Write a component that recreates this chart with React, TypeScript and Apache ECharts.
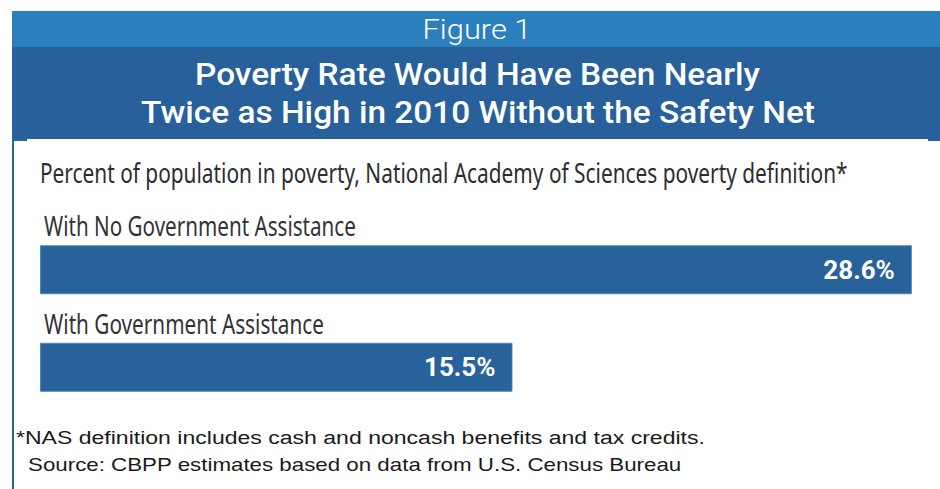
import React, { useEffect, useRef } from "react";
import * as echarts from "echarts";

const figureLabel = "Figure 1";
const titleLines = [
  "Poverty Rate Would Have Been Nearly",
  "Twice as High in 2010 Without the Safety Net",
];
const subtitle =
  "Percent of population in poverty, National Academy of Sciences poverty definition*";
const categories = ["With No Government Assistance", "With Government Assistance"];
const values = [28.6, 15.5];
const footnotes = [
  "*NAS definition includes cash and noncash benefits and tax credits.",
  "Source: CBPP estimates based on data from U.S. Census Bureau",
];

const W = 940;
const H = 489;

function measure(text: string, font: string): number {
  const ctx = document.createElement("canvas").getContext("2d");
  if (!ctx) return text.length * 10;
  ctx.font = font;
  return ctx.measureText(text).width;
}

function fittedText(
  text: string,
  x: number,
  y: number,
  targetWidth: number,
  size: number,
  family: string,
  weight: string,
  fill: string,
  align: string
) {
  const w = measure(text, `${weight} ${size}px ${family}`);
  const s = targetWidth / w;
  return {
    type: "text",
    x,
    y,
    scaleX: s,
    silent: true,
    style: {
      text,
      fill,
      fontSize: size,
      fontFamily: family,
      fontWeight: weight,
      align,
      verticalAlign: "middle",
      textAlign: align,
      textVerticalAlign: "middle",
    },
  };
}

export default function App() {
  const ref = useRef<HTMLDivElement>(null);
  useEffect(() => {
    if (!ref.current) return;
    const chart = echarts.init(ref.current, null, { renderer: "svg" });
    const barColor = "#28629b";
    chart.setOption({
      animation: false,
      backgroundColor: "#ffffff",
      grid: { left: 40, right: 16, top: 221, height: 195, containLabel: false },
      xAxis: { type: "value", min: 0, max: 29, show: false },
      yAxis: {
        type: "category",
        data: categories,
        inverse: true,
        show: false,
      },
      series: [
        {
          type: "bar",
          data: values,
          barWidth: 49,
          itemStyle: { color: barColor, borderColor: "#4d85bd", borderWidth: 1 },
          label: {
            show: true,
            position: "insideRight",
            distance: 17,
            color: "#ffffff",
            fontFamily: "Roboto",
            fontWeight: "bold",
            fontSize: 26,
            formatter: (p: any) => `${p.value.toFixed(1)}%`,
          },
        },
      ],
    });

    const catEls = categories.map((c, i) => {
      const yc = chart.convertToPixel({ yAxisIndex: 0 }, c) as number;
      const target = i === 0 ? 312 : 280;
      return fittedText(c, 44, yc - 44.5, target, 28, "Noto Sans", "normal", "#333333", "left");
    });

    chart.setOption({
      graphic: [
        { type: "rect", silent: true, shape: { x: 12, y: 11, width: 928, height: 36 }, style: { fill: "#2b7fbc" } },
        { type: "rect", silent: true, shape: { x: 12, y: 47, width: 928, height: 92 }, style: { fill: "#27609a" } },
        { type: "line", silent: true, shape: { x1: 13, y1: 139, x2: 13, y2: H }, style: { stroke: "#2a62a0", lineWidth: 2 } },
        { type: "line", silent: true, shape: { x1: 12, y1: 140, x2: 27, y2: 140 }, style: { stroke: "#2a62a0", lineWidth: 2 } },
        { type: "line", silent: true, shape: { x1: 928, y1: 140, x2: 940, y2: 140 }, style: { stroke: "#2a62a0", lineWidth: 2 } },
        fittedText(figureLabel, 477, 29, 109, 28, "Roboto", "300", "#ffffff", "center"),
        fittedText(titleLines[0], 477.5, 74, 565, 32, "Roboto", "500", "#ffffff", "center"),
        fittedText(titleLines[1], 478, 112, 674, 32, "Roboto", "500", "#ffffff", "center"),
        fittedText(subtitle, 40, 172, 808, 28, "Noto Sans", "normal", "#2d2d2d", "left"),
        ...catEls,
        fittedText(footnotes[0], 16, 437, 689, 19, "Liberation Sans", "normal", "#1a1a1a", "left"),
        fittedText(footnotes[1], 28, 464.5, 654, 19, "Liberation Sans", "normal", "#1a1a1a", "left"),
      ],
    });
    return () => chart.dispose();
  }, []);
  return (
    <div
      ref={ref}
      style={{ position: "fixed", left: 0, top: 0, width: W, height: H, background: "#fff" }}
    />
  );
}
